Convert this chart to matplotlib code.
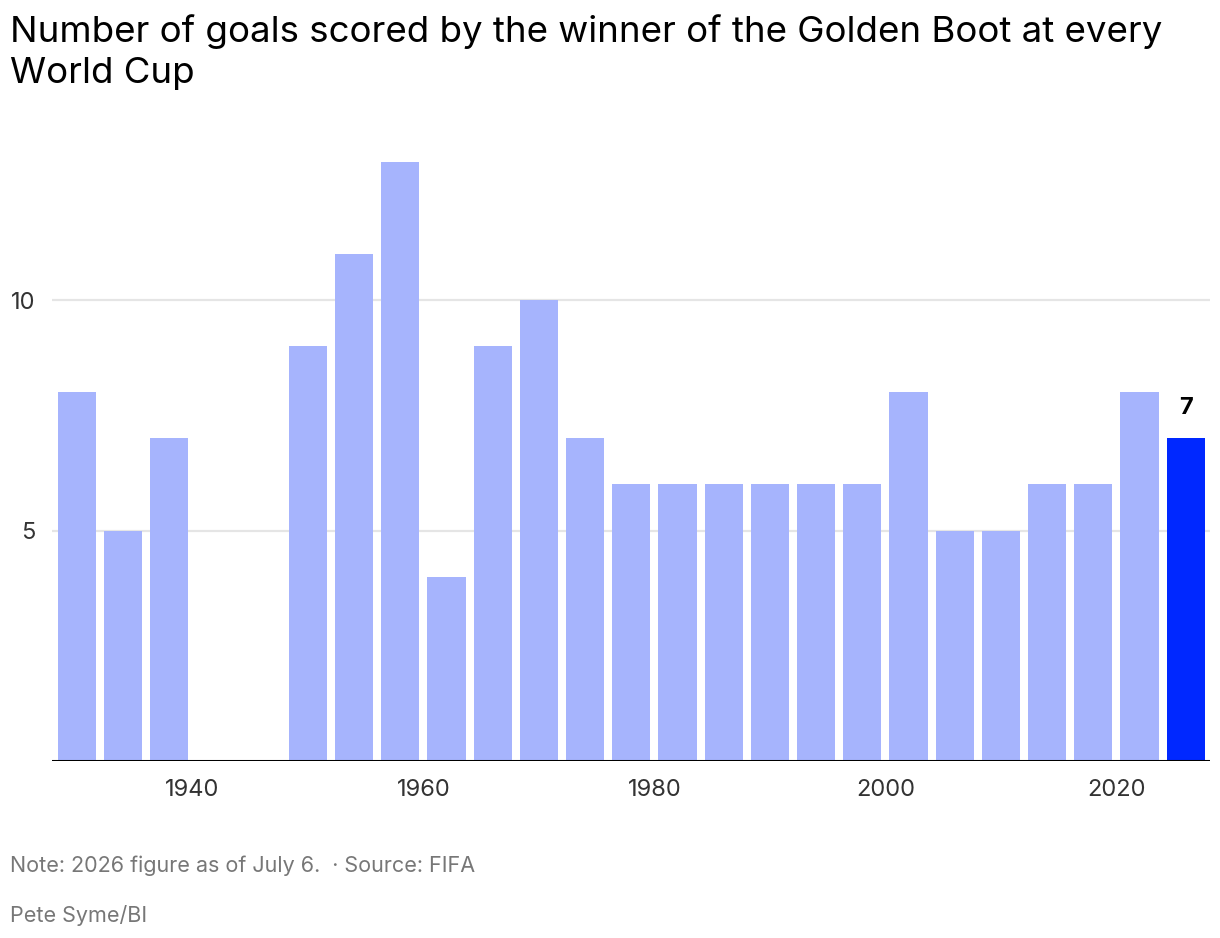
import matplotlib
matplotlib.use("Agg")
import matplotlib.pyplot as plt

years = [1930, 1934, 1938, 1950, 1954, 1958, 1962, 1966, 1970, 1974, 1978, 1982,
         1986, 1990, 1994, 1998, 2002, 2006, 2010, 2014, 2018, 2022, 2026]
goals = [8, 5, 7, 9, 11, 13, 4, 9, 10, 7, 6, 6, 6, 6, 6, 6, 8, 5, 5, 6, 6, 8, 7]
highlight_year = 2026
xticks = [1940, 1960, 1980, 2000, 2020]
yticks = [5, 10]

title_lines = ["Number of goals scored by the winner of the Golden Boot at every",
               "World Cup"]
note = "Note: 2026 figure as of July 6.  \u00b7 Source: FIFA"
credit = "Pete Syme/BI"

plt.rcParams['font.family'] = ['Inter', 'DejaVu Sans']

W, H = 1220, 938
fig = plt.figure(figsize=(W / 100, H / 100), dpi=100)
ax = fig.add_axes([52 / W, 1 - 761 / H, (1210 - 52) / W, (761 - 115.6) / H])

light = '#a6b4fd'
dark = '#0028ff'
colors = [dark if y == highlight_year else light for y in years]
ax.bar(years, goals, width=3.3, color=colors, zorder=2)

ax.set_xlim(1927.84, 2028.1)
ax.set_ylim(0, 14)

for v in yticks:
    ax.axhline(v, color='#e5e5e5', lw=1.6, zorder=1)
ax.axhline(0, color='black', lw=2.2, zorder=3)

for s in ax.spines.values():
    s.set_visible(False)

ax.set_yticks(yticks)
ax.set_yticklabels([str(v) for v in yticks])
ax.set_xticks(xticks)
ax.set_xticklabels([str(v) for v in xticks])
ax.tick_params(axis='both', length=0, labelsize=17, labelcolor='#333333')
ax.tick_params(axis='x', pad=13)
ax.tick_params(axis='y', pad=12)

hi_idx = years.index(highlight_year)
ax.annotate(str(goals[hi_idx]), (years[hi_idx], goals[hi_idx]), xytext=(0, 14),
            textcoords='offset points', ha='center', va='bottom',
            fontsize=17, fontweight='bold', color='black')

for i, line in enumerate(title_lines):
    fig.text(10 / W, 1 - (42 + 41 * i) / H, line, ha='left', va='baseline',
             fontsize=26.4, color='black')
fig.text(10 / W, 1 - 872 / H, note, ha='left', va='baseline', fontsize=15.5,
         color='#777777')
fig.text(10 / W, 1 - 922 / H, credit, ha='left', va='baseline', fontsize=15.5,
         color='#777777')

fig.savefig('out.png', dpi=100)
